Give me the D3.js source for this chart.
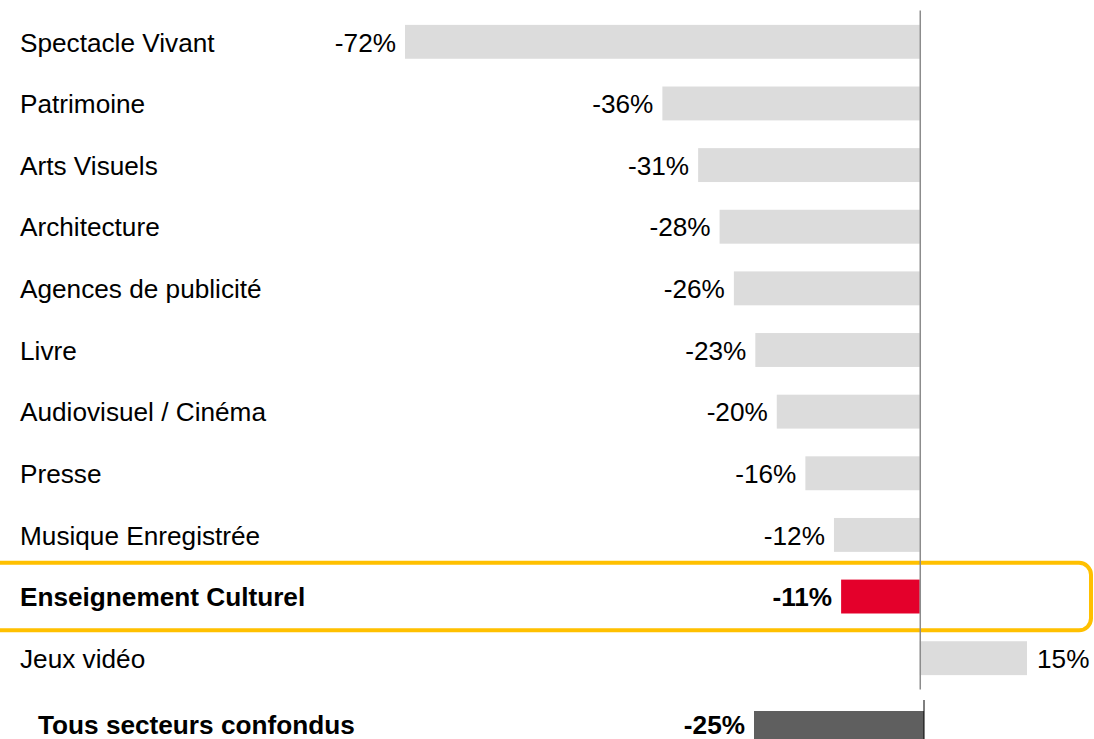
<!DOCTYPE html>
<html>
<head>
<meta charset="utf-8">
<script src="https://cdn.jsdelivr.net/npm/d3@7"></script>
<style>
  html, body { margin: 0; padding: 0; background: #fff; overflow: hidden; }
  text { font-family: Arial, "Liberation Sans", sans-serif; }
</style>
</head>
<body>
<svg id="chart" width="1094" height="739"></svg>
<script>
const categories = [
  "Spectacle Vivant", "Patrimoine", "Arts Visuels", "Architecture",
  "Agences de publicité", "Livre", "Audiovisuel / Cinéma", "Presse",
  "Musique Enregistrée", "Enseignement Culturel", "Jeux vidéo"
];
const values = [-72, -36, -31, -28, -26, -23, -20, -16, -12, -11, 15];
const highlight = ["Enseignement Culturel"];
const totalLabel = ["Tous secteurs confondus"];
const totalValue = [-25];

const FS = 26.2;
const svg = d3.select("#chart");
const fmt = v => `${v}%`;

// Main chart scales
const x = d3.scaleLinear().domain([-72, 15]).range([405, 1027]);
const y = d3.scaleBand().domain(categories).range([11, 689])
  .paddingInner(0.45).paddingOuter(0.225);

const data = categories.map((c, i) => ({ c, v: values[i], hl: highlight.includes(c) }));

// Highlight frame
const hlY = y("Enseignement Culturel");
svg.append("rect")
  .attr("x", -20).attr("y", hlY - y.step() * 0.28 + 0.5)
  .attr("width", 1111)
  .attr("height", y.bandwidth() + y.step() * 0.545)
  .attr("rx", 12).attr("ry", 12)
  .attr("fill", "none").attr("stroke", "#FFC000").attr("stroke-width", 4);

// Bars
svg.append("g").selectAll("rect").data(data).join("rect")
  .attr("x", d => x(Math.min(0, d.v)))
  .attr("y", d => y(d.c))
  .attr("width", d => Math.abs(x(d.v) - x(0)))
  .attr("height", y.bandwidth())
  .attr("fill", d => d.hl ? "#E4002B" : "#DCDCDC");

// Category labels
svg.append("g").selectAll("text").data(data).join("text")
  .attr("x", 20)
  .attr("y", d => y(d.c) + y.bandwidth() / 2)
  .attr("dy", "0.37em")
  .attr("font-size", FS)
  .attr("font-weight", d => d.hl ? "bold" : "normal")
  .attr("fill", "#000")
  .text(d => d.c);

// Value labels
svg.append("g").selectAll("text").data(data).join("text")
  .attr("x", d => d.v < 0 ? x(d.v) - 9 : x(d.v) + 10)
  .attr("y", d => y(d.c) + y.bandwidth() / 2)
  .attr("dy", "0.37em")
  .attr("text-anchor", d => d.v < 0 ? "end" : "start")
  .attr("font-size", FS)
  .attr("font-weight", d => d.hl ? "bold" : "normal")
  .attr("fill", "#000")
  .text(d => fmt(d.v));

// Zero axis line
svg.append("g")
  .attr("transform", `translate(${x(0)},0)`)
  .call(d3.axisLeft(d3.scaleLinear().range([10, 689])).ticks(0).tickSize(0).tickSizeOuter(0))
  .call(g => g.select(".domain").attr("stroke", "#8C8C8C").attr("stroke-width", 1.5));

// Total chart
const xT = d3.scaleLinear().domain([-25, 0]).range([754, 924]);
const tData = totalLabel.map((c, i) => ({ c, v: totalValue[i] }));

svg.append("g").selectAll("rect").data(tData).join("rect")
  .attr("x", d => xT(Math.min(0, d.v)))
  .attr("y", 711)
  .attr("width", d => Math.abs(xT(d.v) - xT(0)))
  .attr("height", 34)
  .attr("fill", "#5F5F5F");

svg.append("g").selectAll("text.lab").data(tData).join("text")
  .attr("x", 38).attr("y", 724).attr("dy", "0.37em")
  .attr("font-size", FS).attr("font-weight", "bold").attr("fill", "#000")
  .text(d => d.c);

svg.append("g").selectAll("text.val").data(tData).join("text")
  .attr("x", d => xT(d.v) - 9).attr("y", 724).attr("dy", "0.37em")
  .attr("text-anchor", "end")
  .attr("font-size", FS).attr("font-weight", "bold").attr("fill", "#000")
  .text(d => fmt(d.v));

svg.append("line")
  .attr("x1", xT(0)).attr("x2", xT(0)).attr("y1", 700).attr("y2", 739)
  .attr("stroke", "#000").attr("stroke-width", 1);
</script>
</body>
</html>
